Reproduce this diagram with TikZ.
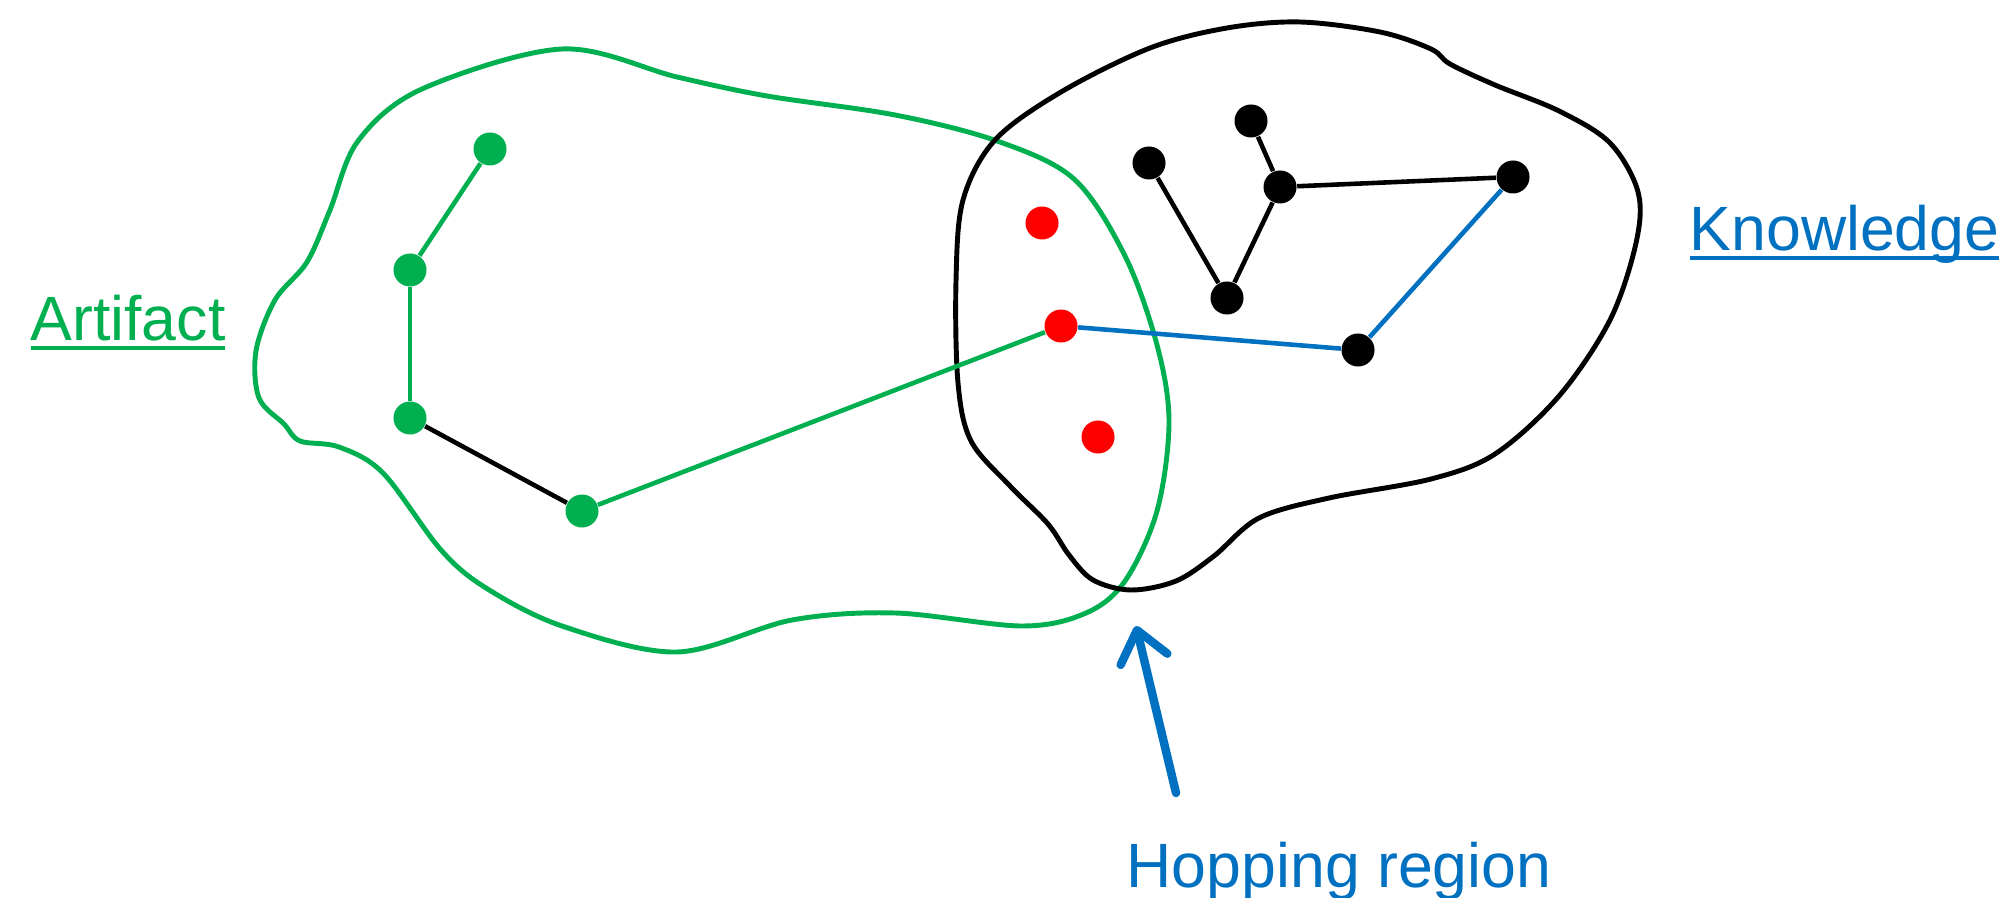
\documentclass[tikz,border=0pt]{standalone}
\usepackage{fontspec}
\setmainfont{Liberation Sans}
\usepackage{xcolor}
\usetikzlibrary{arrows.meta}

\definecolor{artgreen}{HTML}{00B050}
\definecolor{knowblue}{HTML}{0070C0}
\definecolor{hopred}{HTML}{FF0000}

% word with a rule a little under its baseline
\newcommand{\ulword}[1]{\setbox0=\hbox{#1}\rlap{\rule[-0.14em]{\wd0}{0.06em}}\box0}

\begin{document}
\begin{tikzpicture}[
    x=0.01cm, y=-0.01cm,
    font=\fontsize{17.8}{21}\selectfont,
    dot/.style={circle, inner sep=0pt, minimum size=3.3mm},
    gdot/.style={dot, fill=artgreen},
    kdot/.style={dot, fill=black},
    rdot/.style={dot, fill=hopred},
    blob/.style={line width=1.4pt},
    edge/.style={line width=1.3pt},
    hoparrow/.style={-{Straight Barb[length=3mm, width=4.8mm, round]}, line width=2.4pt, line cap=round, draw=knowblue}
  ]
    \useasboundingbox (0,0) rectangle (2004,898);

    % the two regions
    \draw[blob, artgreen] plot[smooth cycle, tension=0.55] coordinates {
      (562,49) (677,77) (767,96) (895,115) (997,141) (1074,179) (1125,256)
      (1157,345) (1169,422) (1157,511) (1125,581) (1086,613) (1022,626)
      (895,613) (792,620) (677,652) (562,626) (486,588) (441,550) (383,473)
      (339,447) (300,441) (284,424) (259,398) (256,351) (275,300) (307,262)
      (330,210) (358,141) (422,89)};
    \draw[blob, black] plot[smooth cycle, tension=0.55] coordinates {
      (1300,22) (1380,32) (1431,49) (1450,64) (1495,85) (1559,111) (1610,143)
      (1638,192) (1636,243) (1610,320) (1559,396) (1495,454) (1431,479)
      (1329,498) (1259,518) (1214,556) (1176,581) (1131,590) (1093,580)
      (1069,555) (1048,524) (1010,486) (971,441) (958,383) (956,281)
      (963,200) (995,140) (1061,92) (1150,48) (1227,28)};

    % dots
    \foreach \n/\x/\y in {g1/490/149, g2/410/270, g3/410/418, g4/582/511} {
      \node[gdot] (\n) at (\x,\y) {};
    }
    \foreach \n/\x/\y in {r1/1042/223, r2/1061/326, r3/1098/437} {
      \node[rdot] (\n) at (\x,\y) {};
    }
    \foreach \n/\x/\y in {b1/1149/163, b2/1251/121, b3/1280/187, b4/1513/177, b5/1227/298, b6/1358/350} {
      \node[kdot] (\n) at (\x,\y) {};
    }

    % links
    \foreach \a/\b/\c in {g1/g2/artgreen, g2/g3/artgreen, g3/g4/black, g4/r2/artgreen,
                          r2/b6/knowblue, b6/b4/knowblue, b1/b5/black, b5/b3/black,
                          b3/b2/black, b3/b4/black} {
      \draw[edge, draw=\c] (\a) -- (\b);
    }

    % labels
    \node[anchor=base west, inner sep=0pt, text=artgreen] (artifact) at (30,341) {\ulword{Artifact}};
    \node[anchor=base west, inner sep=0pt, text=knowblue] (knowledge) at (1689,251) {\ulword{Knowledge}};
    \node[anchor=base west, inner sep=0pt, text=knowblue] (hop) at (1126,887) {Hopping region};

    \coordinate (hoptail) at (1176,793);
    \coordinate (hoptip) at (1136,626);
    \draw[hoparrow] (hoptail) -- (hoptip);
  \end{tikzpicture}
\end{document}
